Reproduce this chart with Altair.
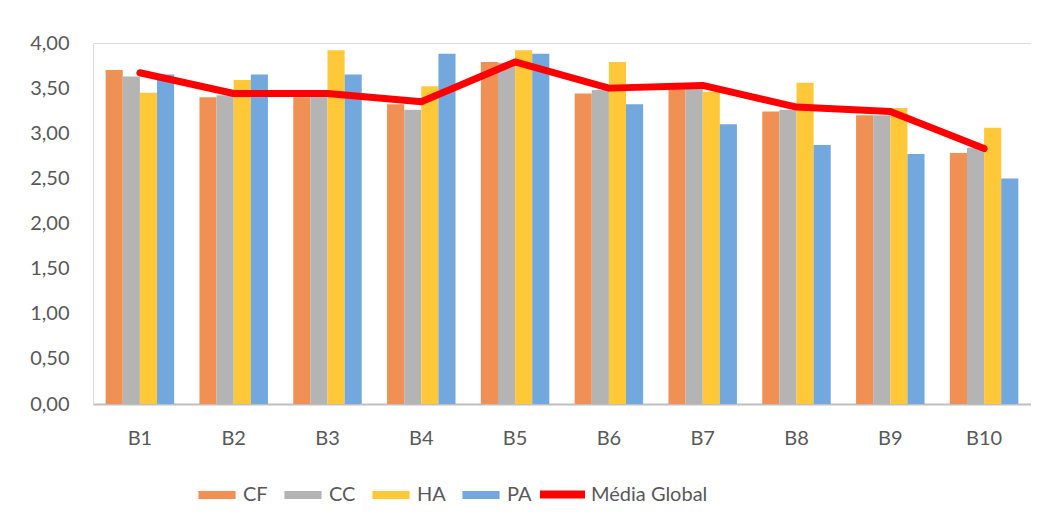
import altair as alt
import pandas as pd

categories = ["B1", "B2", "B3", "B4", "B5", "B6", "B7", "B8", "B9", "B10"]
series = ["CF", "CC", "HA", "PA"]
line_name = "Média Global"
CF = [3.70, 3.40, 3.40, 3.32, 3.79, 3.44, 3.50, 3.24, 3.20, 2.78]
CC = [3.63, 3.42, 3.42, 3.26, 3.78, 3.48, 3.50, 3.26, 3.20, 2.84]
HA = [3.45, 3.59, 3.92, 3.52, 3.92, 3.79, 3.46, 3.56, 3.28, 3.06]
PA = [3.65, 3.65, 3.65, 3.88, 3.88, 3.32, 3.10, 2.87, 2.77, 2.50]
MG = [3.67, 3.44, 3.44, 3.35, 3.79, 3.50, 3.53, 3.29, 3.24, 2.83]
y_ticks = [0, 0.5, 1, 1.5, 2, 2.5, 3, 3.5, 4]

bar_colors = ["#F19055", "#B4B4B4", "#FFC838", "#72A8DE"]
line_color = "#FF0000"
FONT = "Lato"
TXT = "#595959"

rows = []
for s, vals in zip(series, [CF, CC, HA, PA]):
    for c, v in zip(categories, vals):
        rows.append({"cat": c, "serie": s, "valor": v})
bars_df = pd.DataFrame(rows)
line_df = pd.DataFrame({"cat": categories, "valor": MG, "nome": line_name})

x_enc = alt.X(
    "cat:N",
    sort=categories,
    title=None,
    scale=alt.Scale(paddingInner=0.27, paddingOuter=0.135),
    axis=alt.Axis(labelAngle=0, labelPadding=24, ticks=False, domainColor="#BFBFBF",
                  domainWidth=2, labelFontSize=20, labelColor=TXT, labelFont=FONT),
)
y_enc = alt.Y(
    "valor:Q",
    title=None,
    scale=alt.Scale(domain=[0, 4], nice=False),
    axis=alt.Axis(values=y_ticks, grid=False, domain=False, ticks=False, labelPadding=24,
                  labelFontSize=20, labelColor=TXT, labelFont=FONT,
                  labelExpr="replace(format(datum.value, '.2f'), '.', ',')"),
)

bars = alt.Chart(bars_df).mark_bar().encode(
    x=x_enc,
    y=y_enc,
    xOffset=alt.XOffset("serie:N", sort=series, scale=alt.Scale(paddingInner=0, paddingOuter=0)),
    color=alt.Color(
        "serie:N",
        sort=series,
        scale=alt.Scale(domain=series, range=bar_colors),
        legend=alt.Legend(title=None, orient="none", direction="horizontal",
                          legendX=105, legendY=433,
                          symbolType="M-1,-0.22L1,-0.22L1,0.22L-1,0.22Z", symbolSize=1380,
                          symbolStrokeWidth=0, labelFontSize=20, labelColor=TXT,
                          labelFont=FONT, columnPadding=16, labelOffset=7),
    ),
)

line = alt.Chart(line_df).mark_line(strokeWidth=7, strokeCap="round", strokeJoin="round").encode(
    x=alt.X("cat:N", sort=categories),
    y=alt.Y("valor:Q"),
    stroke=alt.Stroke(
        "nome:N",
        scale=alt.Scale(domain=[line_name], range=[line_color]),
        legend=alt.Legend(title=None, orient="none", direction="horizontal",
                          legendX=443, legendY=425,
                          symbolType="stroke", symbolStrokeWidth=8, symbolSize=2025,
                          labelFontSize=20, labelColor=TXT, labelFont=FONT, labelOffset=2),
    ),
)

chart = alt.layer(bars, line).properties(
    width=938,
    height=361,
    autosize=alt.AutoSizeParams(type="none"),
    padding={"left": 85, "top": 35, "right": 0, "bottom": 112},
).configure_view(stroke=None).configure(background="white")

chart.save("out.html", embed_options={"renderer": "svg", "actions": False})
